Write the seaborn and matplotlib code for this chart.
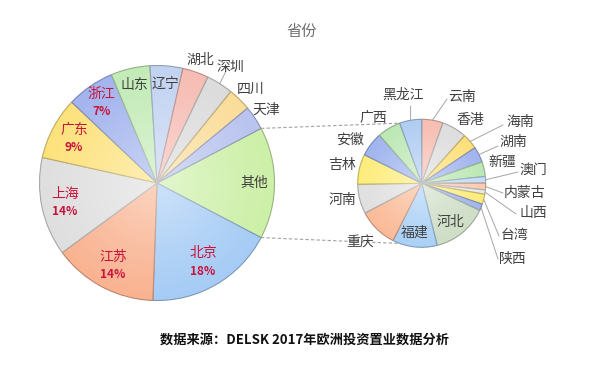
import numpy as np
import matplotlib.pyplot as plt
import seaborn as sns
from matplotlib.patches import Circle

# main pie (share of total, %), clockwise after the "其他" slice
main_names = ['北京', '江苏', '上海', '广东', '浙江', '山东', '辽宁', '湖北', '深圳', '四川', '天津']
main_values = [17.9, 14.4, 13.6, 8.6, 6.6, 5.4, 4.5, 3.6, 3.7, 3.2, 3.3]
other_name = '其他'

# secondary pie, breaking down "其他" (share of total, %), clockwise from 12 o'clock
sub_names = ['云南', '香港', '海南', '湖南', '新疆', '澳门', '内蒙古', '山西', '台湾', '陕西',
             '河北', '福建', '重庆', '河南', '吉林', '安徽', '广西', '黑龙江']
sub_values = [0.83, 0.97, 0.61, 0.61, 0.57, 0.26, 0.26, 0.17, 0.39, 0.26,
              2.18, 1.74, 1.53, 1.15, 1.17, 0.95, 0.91, 0.86]

title = '省份'
source = '数据来源：DELSK 2017年欧洲投资置业数据分析'

sns.set_theme(style='white')
plt.rcParams['font.family'] = ['Noto Sans CJK SC', 'DejaVu Sans']

main_colors = ['#cdf0a8', '#a6ccf5', '#f9b391', '#dfdfdf', '#fde27c', '#a3b4ee',
               '#c3ebb7', '#c2d3f1', '#f6bdb4', '#dcdcdc', '#fbdd9a', '#b9c4ef']
sub_colors = ['#f7beb2', '#dedede', '#fde07a', '#a3b4ee', '#bde8b5', '#c2dff7',
              '#fbcbb2', '#e9e9e9', '#fdec7c', '#a3b4ee', '#cfdec7', '#abd1f6',
              '#fbbb98', '#e0e0e0', '#fdec7c', '#a1b5ee', '#bde8b5', '#b0cdf2']

PX = 117.5          # pixels per data unit (main pie radius)
CX, CY = 157, 183   # main pie centre in pixels


def px(x, y):
    return ((x - CX) / PX, (CY - y) / PX)


def darker(c, f=0.75):
    r, g, b = plt.matplotlib.colors.to_rgb(c)
    return (r * f, g * f, b * f)


def gloss(ax, center, radius):
    # white radial sheen, strongest at the pie centre
    n = 200
    g = np.linspace(-1, 1, n)
    xx, yy = np.meshgrid(g, g)
    rr = np.clip(np.sqrt(xx ** 2 + yy ** 2), 0, 1)
    img = np.ones((n, n, 4))
    img[..., 3] = 0.45 * (1 - rr) ** 1.2
    cx, cy = center
    im = ax.imshow(img, extent=(cx - radius, cx + radius, cy - radius, cy + radius),
                   origin='lower', zorder=2, interpolation='bilinear')
    clip = Circle(center, radius, transform=ax.transData, visible=False)
    ax.add_patch(clip)
    im.set_clip_path(clip)


fig = plt.figure(figsize=(6.05, 3.73), dpi=100)
ax = fig.add_axes([0, 0, 1, 1])

other = sum(sub_values)
total = other + sum(main_values)
start = other / total * 360 / 2

wedges, _ = ax.pie([other] + main_values, center=(0, 0), radius=1, startangle=start,
                   counterclock=False, colors=main_colors,
                   wedgeprops=dict(linewidth=0.8))
for w, c in zip(wedges, main_colors):
    w.set_edgecolor(darker(c))

sub_c = px(421.7, 183.3)
r2 = 64 / PX
swedges, _ = ax.pie(sub_values, center=sub_c, radius=r2, startangle=90,
                    counterclock=False, colors=sub_colors,
                    wedgeprops=dict(linewidth=0.8))
for w, c in zip(swedges, sub_colors):
    w.set_edgecolor(darker(c))

gloss(ax, (0, 0), 1)
gloss(ax, sub_c, r2)

txt = '#404040'
red = '#c8143c'
fs = 10


def mid(w):
    return np.deg2rad((w.theta1 + w.theta2) / 2)


# main pie labels
a = mid(wedges[0])
ax.text(0.83 * np.cos(a), 0.83 * np.sin(a), other_name, ha='center', va='center',
        fontsize=fs, color=txt, zorder=5)
main_r = [0.78, 0.8, 0.8, 0.8, 0.83, 0.86, 0.85, 1.11, 1.17, 1.13, 1.12]
for i, (name, v) in enumerate(zip(main_names, main_values)):
    a = mid(wedges[i + 1])
    x, y = main_r[i] * np.cos(a), main_r[i] * np.sin(a)
    if i < 5:
        ax.text(x, y + 0.075, name, ha='center', va='center', fontsize=fs, color=red, zorder=5)
        ax.text(x, y - 0.075, f'{v / total * 100:.0f}%', ha='center', va='center',
                fontsize=8.5, color=red, fontweight='bold', zorder=5)
    else:
        ax.text(x, y, name, ha='center', va='center', fontsize=fs, color=txt, zorder=5)
# small leader for 深圳
a = mid(wedges[9])
x0, y0 = px(226, 71)
ax.plot([x0, np.cos(a)], [y0, np.sin(a)], color='#a6a6a6', lw=0.7)

# secondary labels: text positions (px) and optional leader start (px)
sub_text = {
    '黑龙江': (403, 95), '云南': (462, 97), '香港': (470, 120), '海南': (520, 122),
    '湖南': (513, 142), '新疆': (502, 162), '澳门': (533, 170), '内蒙古': (524, 193),
    '山西': (533, 213), '台湾': (514, 235), '陕西': (513, 259), '河北': (450, 222),
    '福建': (415, 233), '重庆': (360, 243), '河南': (342, 200), '吉林': (342, 165),
    '安徽': (350, 140), '广西': (373, 118),
}
sub_leader = {
    '黑龙江': (410.6, 106), '云南': (447, 99), '海南': (503, 125), '湖南': (498, 146),
    '澳门': (518, 172), '内蒙古': (503, 193), '山西': (516, 214), '台湾': (499, 236),
    '陕西': (498, 259),
}
for w, name in zip(swedges, sub_names):
    x, y = px(*sub_text[name])
    ax.text(x, y, name, ha='center', va='center', fontsize=fs, color=txt, zorder=5)
    if name in sub_leader:
        a = mid(w)
        lx, ly = px(*sub_leader[name])
        ax.plot([lx, sub_c[0] + r2 * np.cos(a)], [ly, sub_c[1] + r2 * np.sin(a)],
                color='#a6a6a6', lw=0.7, zorder=3)

# dashed connectors between the pies
for th_main, th_sub in [(wedges[0].theta2, 110), (wedges[0].theta1, -110)]:
    t1, t2 = np.deg2rad(th_main), np.deg2rad(th_sub)
    ax.plot([np.cos(t1), sub_c[0] + r2 * np.cos(t2)],
            [np.sin(t1), sub_c[1] + r2 * np.sin(t2)],
            color='#a0a0a0', lw=0.8, ls=(0, (3, 2)))

tx, ty = px(302, 31)
ax.text(tx, ty, title, ha='center', va='center', fontsize=11, color='#6f6f6f')
sx, sy = px(304, 340)
ax.text(sx, sy, source, ha='center', va='center', fontsize=9.5, color='#111111', fontweight='bold')

ax.set_xlim(-CX / PX, (605 - CX) / PX)
ax.set_ylim(-(373 - CY) / PX, CY / PX)
ax.set_aspect('equal')
ax.axis('off')

fig.savefig('out.png', dpi=100)
